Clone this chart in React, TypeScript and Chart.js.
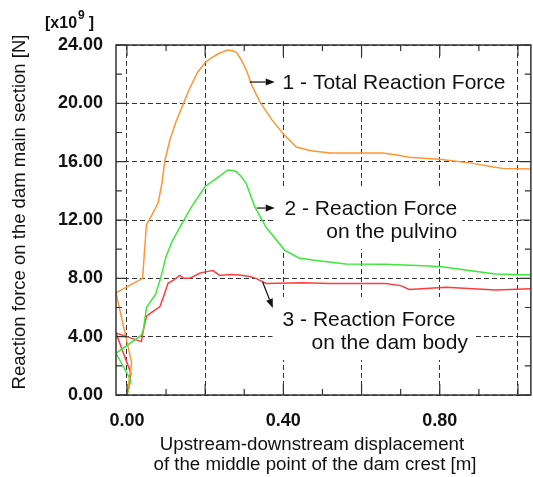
import { useEffect, useRef } from 'react';
import { Chart, registerables } from 'chart.js';

Chart.register(...registerables);

// ---- data (displacement [m], force [x10^9 N]) ----
const totalX = [0, 0.012, -0.028, 0.040, 0.045, 0.050, 0.065, 0.080, 0.090, 0.097, 0.110, 0.125, 0.140, 0.160, 0.180, 0.200, 0.215, 0.237, 0.258, 0.270, 0.280, 0.292, 0.305, 0.320, 0.340, 0.370, 0.400, 0.433, 0.470, 0.520, 0.600, 0.653, 0.690, 0.722, 0.806, 0.880, 0.934, 0.960, 1.033];
const totalY = [0, 2.2, 7.0, 8.0, 9.9, 11.7, 12.4, 13.2, 14.6, 16.1, 17.5, 18.7, 19.7, 21.0, 22.1, 22.8, 23.1, 23.45, 23.66, 23.6, 23.5, 23.0, 22.3, 21.2, 20.1, 18.9, 17.9, 17.0, 16.75, 16.6, 16.6, 16.6, 16.45, 16.3, 16.15, 15.9, 15.65, 15.54, 15.5];

const pulvinoX = [0, 0.010, -0.028, 0.037, 0.042, 0.050, 0.073, 0.086, 0.100, 0.115, 0.135, 0.165, 0.200, 0.229, 0.258, 0.270, 0.280, 0.292, 0.305, 0.327, 0.356, 0.403, 0.440, 0.475, 0.560, 0.662, 0.773, 0.806, 0.875, 0.943, 1.033];
const pulvinoY = [0, 1.0, 2.86, 4.1, 4.46, 6.0, 6.9, 8.0, 9.5, 10.5, 11.5, 12.9, 14.3, 14.86, 15.43, 15.4, 15.31, 15.0, 14.5, 12.9, 11.5, 9.94, 9.4, 9.26, 8.98, 8.96, 8.85, 8.8, 8.53, 8.3, 8.23];

const bodyX = [0, 0.005, 0.010, -0.028, 0.037, 0.042, 0.050, 0.065, 0.084, 0.093, 0.105, 0.120, 0.135, 0.145, 0.160, 0.186, 0.203, 0.220, 0.237, 0.263, 0.288, 0.314, 0.330, 0.356, 0.450, 0.518, 0.662, 0.700, 0.722, 0.816, 0.943, 1.033];
const bodyY = [0, 0.5, 1.5, 4.25, 3.66, 4.46, 5.4, 5.7, 6.05, 6.7, 7.66, 7.9, 8.2, 8.0, 8.0, 8.35, 8.46, 8.53, 8.2, 8.27, 8.23, 8.12, 8.0, 7.65, 7.7, 7.65, 7.65, 7.5, 7.24, 7.38, 7.2, 7.29];

const seriesNames = ['1 - Total Reaction Force', '2 - Reaction Force on the pulvino', '3 - Reaction Force on the dam body'];

const xTickValues = [0, 0.2, 0.4, 0.6, 0.8, 1.0];
const xTickLabels = ['0.00', '', '0.40', '', '0.80', ''];
const xMinorValues = [0.1, 0.3, 0.5, 0.7, 0.9];
const yTickValues = [0, 4, 8, 12, 16, 20, 24];
const yTickLabels = ['0.00', '4.00', '8.00', '12.00', '16.00', '20.00', '24.00'];
const yMinorValues = [2, 6, 10, 14, 18, 22];

const X_MIN = -0.028;
const X_MAX = 1.033;
const Y_MIN = 0;
const Y_MAX = 24;

const FONT = '"Liberation Sans", Arial, Helvetica, sans-serif';

// annotation placement in data coordinates
const annotations = [
  { lines: ['1 - Total Reaction Force'], lineX: [0.398], lineY: [21.4], arrow: [0.314, 21.46, 0.378, 21.46] },
  { lines: ['2 - Reaction Force', 'on the pulvino'], lineX: [0.403, 0.510], lineY: [12.75, 11.18], arrow: [0.332, 12.82, 0.378, 12.82] },
  { lines: ['3 - Reaction Force', 'on the dam body'], lineX: [0.398, 0.472], lineY: [5.14, 3.57], arrow: [0.347, 7.75, 0.373, 5.97] },
];

function toPoints(xs: number[], ys: number[]) {
  return xs.map((x, i) => ({ x, y: ys[i] }));
}

function drawArrow(ctx: CanvasRenderingContext2D, x1: number, y1: number, x2: number, y2: number) {
  const ang = Math.atan2(y2 - y1, x2 - x1);
  const head = 9;
  const hw = 3.5;
  const bx = x2 - head * Math.cos(ang);
  const by = y2 - head * Math.sin(ang);
  ctx.strokeStyle = '#111';
  ctx.fillStyle = '#111';
  ctx.lineWidth = 1.2;
  ctx.beginPath();
  ctx.moveTo(x1, y1);
  ctx.lineTo(bx, by);
  ctx.stroke();
  ctx.beginPath();
  ctx.moveTo(x2, y2);
  ctx.lineTo(bx + hw * Math.sin(ang), by - hw * Math.cos(ang));
  ctx.lineTo(bx - hw * Math.sin(ang), by + hw * Math.cos(ang));
  ctx.closePath();
  ctx.fill();
}

const ANN_FONT = `21px ${FONT}`;

const decorPlugin = {
  id: 'decor',
  beforeDatasetsDraw(chart: any) {
    const ctx = chart.ctx as CanvasRenderingContext2D;
    const xs = chart.scales.x;
    const ys = chart.scales.y;
    ctx.save();
    ctx.font = ANN_FONT;
    // white boxes behind annotation texts (hide grid lines)
    annotations.forEach((a) => {
      let l = Infinity, r = -Infinity, t = Infinity, b = -Infinity;
      a.lines.forEach((line, i) => {
        const px = xs.getPixelForValue(a.lineX[i]);
        const py = ys.getPixelForValue(a.lineY[i]);
        const w = ctx.measureText(line).width;
        l = Math.min(l, px);
        r = Math.max(r, px + w);
        t = Math.min(t, py - 11);
        b = Math.max(b, py + 11);
      });
      ctx.fillStyle = '#fff';
      ctx.fillRect(l - 10, t - 12, r - l + 15, b - t + 18);
    });
    ctx.restore();
  },
  afterDatasetsDraw(chart: any) {
    const ctx = chart.ctx as CanvasRenderingContext2D;
    const xs = chart.scales.x;
    const ys = chart.scales.y;
    const { left, right, top, bottom } = chart.chartArea;
    ctx.save();
    // frame
    ctx.strokeStyle = '#333';
    ctx.lineWidth = 1.5;
    ctx.setLineDash([]);
    ctx.strokeRect(left, top, right - left, bottom - top);
    // inward ticks
    ctx.lineWidth = 1.2;
    ctx.beginPath();
    const tick = (v: number, len: number) => {
      const px = xs.getPixelForValue(v);
      ctx.moveTo(px, bottom);
      ctx.lineTo(px, bottom - len);
      ctx.moveTo(px, top);
      ctx.lineTo(px, top + len);
    };
    const ytick = (v: number, len: number) => {
      const py = ys.getPixelForValue(v);
      ctx.moveTo(left, py);
      ctx.lineTo(left + len, py);
      ctx.moveTo(right, py);
      ctx.lineTo(right - len, py);
    };
    xTickValues.forEach((v) => tick(v, 11));
    xMinorValues.forEach((v) => tick(v, 6));
    yTickValues.forEach((v) => ytick(v, 11));
    yMinorValues.forEach((v) => ytick(v, 6));
    ctx.stroke();

    // annotations
    ctx.fillStyle = '#111';
    ctx.font = ANN_FONT;
    ctx.textAlign = 'left';
    ctx.textBaseline = 'middle';
    annotations.forEach((a) => {
      a.lines.forEach((line, i) => {
        ctx.fillStyle = '#111';
        ctx.fillText(line, xs.getPixelForValue(a.lineX[i]), ys.getPixelForValue(a.lineY[i]));
      });
      drawArrow(
        ctx,
        xs.getPixelForValue(a.arrow[0]),
        ys.getPixelForValue(a.arrow[1]),
        xs.getPixelForValue(a.arrow[2]),
        ys.getPixelForValue(a.arrow[3])
      );
    });

    // axis titles
    ctx.fillStyle = '#111';
    ctx.font = `18.7px ${FONT}`;
    ctx.textAlign = 'center';
    ctx.textBaseline = 'middle';
    ctx.fillText('Upstream-downstream displacement', 312, 445);
    ctx.fillText('of the middle point of the dam crest [m]', 315, 465);

    ctx.font = `18.5px ${FONT}`;
    ctx.save();
    ctx.translate(20, 212);
    ctx.rotate(-Math.PI / 2);
    ctx.fillText('Reaction force on the dam main section [N]', 0, 0);
    ctx.restore();

    // unit multiplier
    ctx.font = `bold 16px ${FONT}`;
    ctx.textAlign = 'left';
    ctx.textBaseline = 'alphabetic';
    ctx.fillText('[x10', 45, 28);
    const w1 = ctx.measureText('[x10').width;
    ctx.font = `bold 12px ${FONT}`;
    ctx.fillText('9', 45 + w1 + 1, 19);
    const w2 = ctx.measureText('9').width;
    ctx.font = `bold 16px ${FONT}`;
    ctx.fillText(']', 45 + w1 + w2 + 5, 28);
    ctx.restore();
  },
};

export default function App() {
  const canvasRef = useRef<HTMLCanvasElement | null>(null);

  useEffect(() => {
    document.body.style.margin = '0';
    const canvas = canvasRef.current;
    if (!canvas) return;
    const chart = new Chart(canvas, {
      type: 'line',
      data: {
        datasets: [
          { label: seriesNames[0], data: toPoints(totalX, totalY), borderColor: 'rgb(255,150,50)', borderWidth: 1.5, pointRadius: 0, tension: 0, fill: false },
          { label: seriesNames[1], data: toPoints(pulvinoX, pulvinoY), borderColor: 'rgb(60,232,60)', borderWidth: 1.5, pointRadius: 0, tension: 0, fill: false },
          { label: seriesNames[2], data: toPoints(bodyX, bodyY), borderColor: 'rgb(255,60,60)', borderWidth: 1.5, pointRadius: 0, tension: 0, fill: false },
        ],
      },
      options: {
        responsive: false,
        animation: false,
        events: [],
        layout: { padding: { top: 45, right: 1, left: 0, bottom: 0 } },
        plugins: { legend: { display: false }, tooltip: { enabled: false }, title: { display: false } },
        scales: {
          x: {
            type: 'linear',
            min: X_MIN,
            max: X_MAX,
            afterBuildTicks: (scale: any) => {
              scale.ticks = xTickValues.map((v) => ({ value: v }));
            },
            afterFit: (scale: any) => {
              scale.height = 82;
            },
            ticks: {
              autoSkip: false,
              maxRotation: 0,
              padding: 15,
              color: '#111',
              font: { family: FONT, size: 18, weight: 'bold' },
              callback: (_v: any, i: number) => xTickLabels[i],
            },
            grid: { color: '#333', lineWidth: 1, drawTicks: false },
            border: { display: false, dash: [5, 3] },
          },
          y: {
            type: 'linear',
            min: Y_MIN,
            max: Y_MAX,
            afterBuildTicks: (scale: any) => {
              scale.ticks = yTickValues.map((v) => ({ value: v }));
            },
            afterFit: (scale: any) => {
              scale.width = 116;
            },
            ticks: {
              autoSkip: false,
              padding: 13,
              color: '#111',
              font: { family: FONT, size: 18, weight: 'bold' },
              callback: (_v: any, i: number) => yTickLabels[i],
            },
            grid: { color: '#333', lineWidth: 1, drawTicks: false },
            border: { display: false, dash: [5, 3] },
          },
        },
      },
      plugins: [decorPlugin],
    } as any);
    return () => chart.destroy();
  }, []);

  return (
    <div style={{ position: 'absolute', left: 0, top: 0, width: 533, height: 477, background: '#fff' }}>
      <canvas ref={canvasRef} width={533} height={477} style={{ display: 'block' }} />
    </div>
  );
}
